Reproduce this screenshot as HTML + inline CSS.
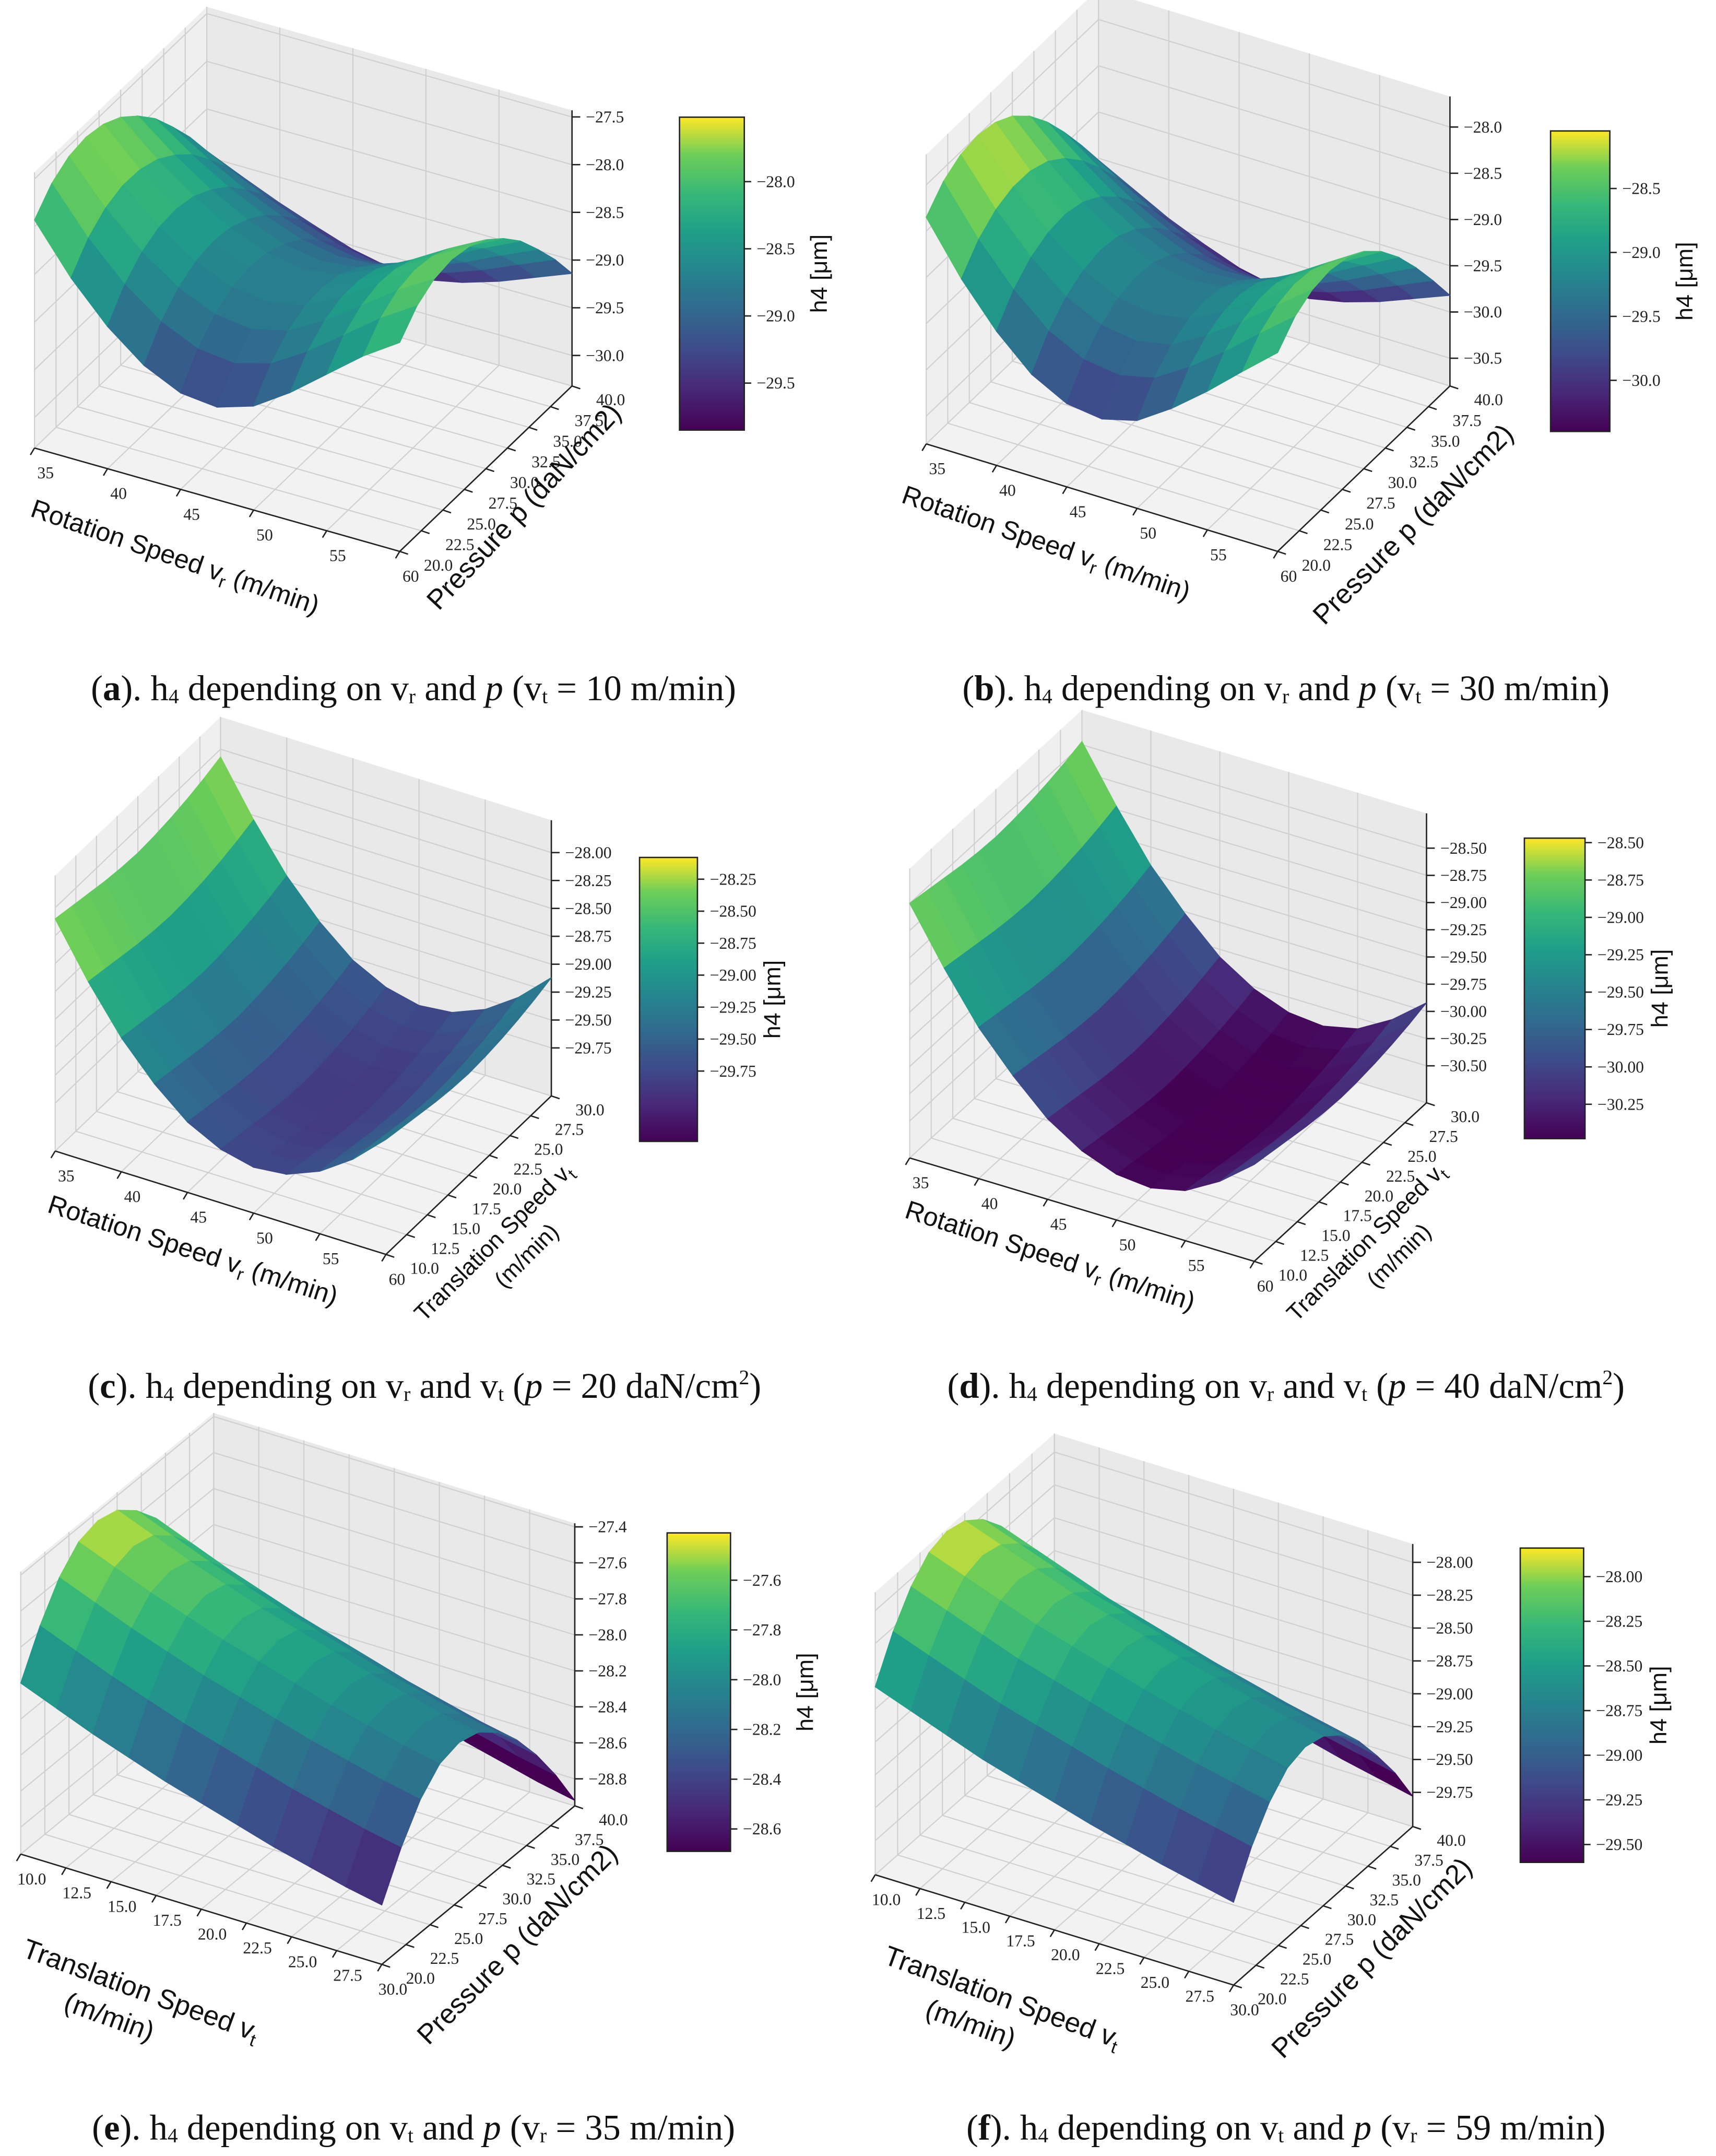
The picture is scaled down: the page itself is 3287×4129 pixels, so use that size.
<!DOCTYPE html>
<html><head><meta charset="utf-8"><style>
html,body{margin:0;padding:0;background:#fff}
svg{display:block}
</style></head><body>
<svg id="fig" xmlns="http://www.w3.org/2000/svg" width="3287" height="4129" viewBox="0 0 1245 1564" font-family="Liberation Serif, serif">
<rect width="1245" height="1564" fill="#fff"/>
</svg>
<script>
// ---- data ----
// surface z = base + yProfile[j] + blend(xFront[i] at y-min, xBack[i] at y-max)
const xTicksVr = [35,40,45,50,55,60];
const xTicksVt = [10.0,12.5,15.0,17.5,20.0,22.5,25.0,27.5,30.0];
const yTicksP = [20.0,22.5,25.0,27.5,30.0,32.5,35.0,37.5,40.0];
const yTicksVt = [10.0,12.5,15.0,17.5,20.0,22.5,25.0,27.5,30.0];

const baseA = -27.58;
const xFrontA = [0,-0.5,-0.9,-1.2,-1.38,-1.42,-1.3,-1.05,-0.75,-0.45,-0.2];
const xBackA = [0,-0.17,-0.33,-0.47,-0.6,-0.68,-0.7,-0.62,-0.5,-0.35,-0.2];
const yProfA = [-0.35,-0.14,-0.03,0,-0.04,-0.14,-0.3,-0.5,-0.76,-1.04,-1.36];
const zTicksA = [-27.5,-28.0,-28.5,-29.0,-29.5,-30.0];
const cbTicksA = [-28.0,-28.5,-29.0,-29.5];

const baseB = -28.0;
const xFrontB = [0,-0.55,-1.0,-1.35,-1.55,-1.6,-1.5,-1.25,-0.95,-0.62,-0.3];
const xBackB = [0,-0.2,-0.4,-0.56,-0.7,-0.78,-0.8,-0.72,-0.6,-0.45,-0.3];
const yProfB = [-0.35,-0.14,-0.03,0,-0.04,-0.15,-0.33,-0.57,-0.86,-1.18,-1.52];
const zTicksB = [-28.0,-28.5,-29.0,-29.5,-30.0,-30.5];
const cbTicksB = [-28.5,-29.0,-29.5,-30.0];

const baseC = -28.1;
const xProfC = [0,-0.47,-0.88,-1.2,-1.45,-1.6,-1.67,-1.64,-1.52,-1.32,-1.05];
const yProfC = [0,-0.03,-0.06,-0.09,-0.11,-0.12,-0.11,-0.09,-0.06,-0.02,0.03];
const zTicksC = [-28.00,-28.25,-28.50,-28.75,-29.00,-29.25,-29.50,-29.75];
const cbTicksC = [-28.25,-28.50,-28.75,-29.00,-29.25,-29.50,-29.75];

const baseD = -28.5;
const xProfD = [0,-0.5,-0.95,-1.3,-1.6,-1.8,-1.92,-1.95,-1.88,-1.7,-1.45];
const yProfD = [0,-0.03,-0.06,-0.09,-0.11,-0.12,-0.11,-0.09,-0.06,-0.02,0.03];
const zTicksD = [-28.50,-28.75,-29.00,-29.25,-29.50,-29.75,-30.00,-30.25,-30.50];
const cbTicksD = [-28.50,-28.75,-29.00,-29.25,-29.50,-29.75,-30.00,-30.25];

const baseE = -27.45;
const xProfE = [0,-0.08,-0.16,-0.23,-0.3,-0.36,-0.42,-0.48,-0.53,-0.58,-0.62];
const yProfE = [-0.55,-0.32,-0.14,-0.03,0,-0.03,-0.12,-0.25,-0.42,-0.62,-0.85];
const zTicksE = [-27.4,-27.6,-27.8,-28.0,-28.2,-28.4,-28.6,-28.8];
const cbTicksE = [-27.6,-27.8,-28.0,-28.2,-28.4,-28.6];

const baseF = -27.88;
const xProfF = [0,-0.1,-0.2,-0.3,-0.38,-0.46,-0.54,-0.61,-0.68,-0.74,-0.8];
const yProfF = [-0.7,-0.4,-0.18,-0.04,0,-0.04,-0.15,-0.32,-0.55,-0.8,-1.1];
const zTicksF = [-28.00,-28.25,-28.50,-28.75,-29.00,-29.25,-29.50,-29.75];
const cbTicksF = [-28.00,-28.25,-28.50,-28.75,-29.00,-29.25,-29.50];

const NS='http://www.w3.org/2000/svg';
const svg=document.getElementById('fig');
const VIR=[[0,[68,1,84]],[0.13,[72,40,120]],[0.25,[62,73,137]],[0.38,[49,104,142]],[0.5,[38,130,142]],[0.63,[31,158,137]],[0.75,[53,183,121]],[0.88,[110,206,88]],[1,[253,231,37]]];
function vir(t){t=Math.max(0,Math.min(1,t));for(let i=1;i<VIR.length;i++){if(t<=VIR[i][0]){const a=VIR[i-1],b=VIR[i];const f=(t-a[0])/(b[0]-a[0]);const c=a[1].map((v,k)=>Math.round(v+(b[1][k]-v)*f));return `rgb(${c[0]},${c[1]},${c[2]})`;}}return 'rgb(253,231,37)';}
function el(tag,attrs,parent){const e=document.createElementNS(NS,tag);for(const k in attrs)e.setAttribute(k,attrs[k]);(parent||svg).appendChild(e);return e;}
function fmt(v,d){return (v<0?'\u2212':'')+Math.abs(v).toFixed(d);}

const panels=[
 {id:'a',O:[25,325],ex:[265,75],ey:[125,-120],ez:[0,-200],xr:[35,60],yr:[20,40],zr:[-30.32,-27.43],xt:xTicksVr,yt:yTicksP,zt:zTicksA,zd:1,base:baseA,xf:xFrontA,xb:xBackA,yp:yProfA,cb:[493,85,47,227],cbr:[-29.85,-27.52],cbt:cbTicksA,cbd:1,xd:0,
  xl:['Rotation Speed v','r',' (m/min)'],xlPos:[125,410,19],yl:'Pressure p (daN/cm2)',ylPos:[385,372,-47],cap:[300,508,'a','r','p','t','10 m/min','v']},
 {id:'b',O:[672,322],ex:[255,78],ey:[125,-120],ez:[0,-210],xr:[35,60],yr:[20,40],zr:[-30.8,-27.67],xt:xTicksVr,yt:yTicksP,zt:zTicksB,zd:1,base:baseB,xf:xFrontB,xb:xBackB,yp:yProfB,cb:[1125,95,43,218],cbr:[-30.4,-28.05],cbt:cbTicksB,cbd:1,xd:0,
  xl:['Rotation Speed v','r',' (m/min)'],xlPos:[757,400,19],yl:'Pressure p (daN/cm2)',ylPos:[1030,385,-45],cap:[933,508,'b','r','p','t','30 m/min','v']},
 {id:'c',O:[40,835],ex:[240,75],ey:[120,-115],ez:[0,-200],xr:[35,60],yr:[10,30],zr:[-30.18,-27.71],xt:xTicksVr,yt:yTicksVt,zt:zTicksC,zd:2,base:baseC,xf:xProfC,xb:xProfC,yp:yProfC,cb:[464,622,42,206],cbr:[-30.3,-28.08],cbt:cbTicksC,cbd:2,xd:0,
  xl:['Rotation Speed v','r',' (m/min)'],xlPos:[138,913,18],yl2:['Translation Speed v','t','(m/min)'],ylPos:[362,905,-45],cap:[308,1014,'c','r','vt','p','20 daN/cm','p']},
 {id:'d',O:[660,840],ex:[250,75],ey:[125,-115],ez:[0,-210],xr:[35,60],yr:[10,30],zr:[-30.84,-28.18],xt:xTicksVr,yt:yTicksVt,zt:zTicksD,zd:2,base:baseD,xf:xProfD,xb:xProfD,yp:yProfD,cb:[1106,608,44,218],cbr:[-30.48,-28.47],cbt:cbTicksD,cbd:2,xd:0,
  xl:['Rotation Speed v','r',' (m/min)'],xlPos:[760,917,18],yl2:['Translation Speed v','t','(m/min)'],ylPos:[995,905,-45],cap:[933,1014,'d','r','vt','p','40 daN/cm','p']},
 {id:'e',O:[15,1345],ex:[262,80],ey:[140,-115],ez:[0,-205],xr:[10,30],yr:[20,40],zr:[-28.95,-27.38],xt:xTicksVt,yt:yTicksP,zt:zTicksE,zd:1,base:baseE,xf:xProfE,xb:xProfE,yp:yProfE,cb:[484,1112,46,231],cbr:[-28.69,-27.41],cbt:cbTicksE,cbd:1,xd:1,
  xl2:['Translation Speed v','t','(m/min)'],xlPos:[100,1450,20],yl:'Pressure p (daN/cm2)',ylPos:[380,1415,-45],cap:[300,1552,'e','t','p','r','35 m/min','v']},
 {id:'f',O:[635,1360],ex:[260,80],ey:[130,-115],ez:[0,-205],xr:[10,30],yr:[20,40],zr:[-30.01,-27.86],xt:xTicksVt,yt:yTicksP,zt:zTicksF,zd:2,base:baseF,xf:xProfF,xb:xProfF,yp:yProfF,cb:[1103,1123,46,228],cbr:[-29.60,-27.84],cbt:cbTicksF,cbd:2,xd:1,
  xl2:['Translation Speed v','t','(m/min)'],xlPos:[725,1455,20],yl:'Pressure p (daN/cm2)',ylPos:[1000,1425,-45],cap:[933,1552,'f','t','p','r','59 m/min','v']},
];

const captions=[];
panels.forEach(P=>{
 const g=el('g',{});
 
 
 const nx=v=>(v-P.xr[0])/(P.xr[1]-P.xr[0]);
 const ny=v=>(v-P.yr[0])/(P.yr[1]-P.yr[0]);
 const nz=v=>(v-P.zr[0])/(P.zr[1]-P.zr[0]);
 const pr=(a,b,c)=>[P.O[0]+a*P.ex[0]+b*P.ey[0]+c*P.ez[0],P.O[1]+a*P.ex[1]+b*P.ey[1]+c*P.ez[1]];
 const pts=arr=>arr.map(p=>p[0].toFixed(2)+','+p[1].toFixed(2)).join(' ');
 const floor=el('polygon',{points:pts([pr(0,0,0),pr(1,0,0),pr(1,1,0),pr(0,1,0)]),fill:'#f2f2f2',stroke:'none'},g);
 
 
 const wl=el('polygon',{points:pts([pr(0,0,0),pr(0,1,0),pr(0,1,1),pr(0,0,1)]),fill:'#efefef'},g);
 
 
 const wr=el('polygon',{points:pts([pr(0,1,0),pr(1,1,0),pr(1,1,1),pr(0,1,1)]),fill:'#e9e9e9'},g);
 
 
 const gl=(a,b)=>el('line',{x1:a[0],y1:a[1],x2:b[0],y2:b[1],stroke:'#cfcfcf','stroke-width':0.8},g);
 P.xt.forEach(v=>{const t=nx(v);gl(pr(t,0,0),pr(t,1,0));gl(pr(t,1,0),pr(t,1,1));});
 P.yt.forEach(v=>{const t=ny(v);gl(pr(0,t,0),pr(1,t,0));gl(pr(0,t,0),pr(0,t,1));});
 P.zt.forEach(v=>{const t=nz(v);if(t<0||t>1)return;gl(pr(0,0,t),pr(0,1,t));gl(pr(0,1,t),pr(1,1,t));});
 const ax=(a,b)=>el('line',{x1:a[0],y1:a[1],x2:b[0],y2:b[1],stroke:'#222','stroke-width':1},g);
 ax(pr(0,0,0),pr(1,0,0));ax(pr(1,0,0),pr(1,1,0));ax(pr(1,1,0),pr(1,1,1));
 const n=P.xf.length,m=P.yp.length;
 const Z=(i,j)=>{const t=j/(m-1);return P.base+P.yp[j]+(1-t)*P.xf[i]+t*P.xb[i];};
 const quads=[];
 for(let i=0;i<n-1;i++)for(let j=0;j<m-1;j++){
  const xs=[i/(n-1),(i+1)/(n-1)],ys=[j/(m-1),(j+1)/(m-1)];
  const zz=[Z(i,j),Z(i+1,j),Z(i+1,j+1),Z(i,j+1)];
  const zm=(zz[0]+zz[1]+zz[2]+zz[3])/4;
  const c=[pr(xs[0],ys[0],nz(zz[0])),pr(xs[1],ys[0],nz(zz[1])),pr(xs[1],ys[1],nz(zz[2])),pr(xs[0],ys[1],nz(zz[3]))];
  quads.push({c,zm,d:(xs[0]+xs[1])/2-(ys[0]+ys[1])/2+0.3*nz(zm)});
 }
 quads.sort((a,b)=>a.d-b.d);
 const sg=el('g',{},g);
 
 
 quads.forEach(q=>{
  const col=vir((q.zm-P.cbr[0])/(P.cbr[1]-P.cbr[0]));
  const p=el('polygon',{points:pts(q.c),fill:col,stroke:col,'stroke-width':0.6},sg);
  
  
 });
 P.xt.forEach(v=>{const t=nx(v);const a=pr(t,0,0);
  el('line',{x1:a[0],y1:a[1],x2:a[0]-3,y2:a[1]+5,stroke:'#222','stroke-width':1},g);
  const tx=el('text',{x:a[0]+8,y:a[1]+22,'font-size':12,'text-anchor':'middle',fill:'#222'},g);
  tx.textContent=v.toFixed(P.xd);
  
  });
 P.yt.forEach(v=>{const t=ny(v);const a=pr(1,t,0);
  el('line',{x1:a[0],y1:a[1],x2:a[0]+6,y2:a[1]+2,stroke:'#222','stroke-width':1},g);
  const tx=el('text',{x:a[0]+28,y:a[1]+14,'font-size':12,'text-anchor':'middle',fill:'#222'},g);
  tx.textContent=v.toFixed(1);
  
  });
 P.zt.forEach(v=>{const t=nz(v);const a=pr(1,1,t);
  el('line',{x1:a[0],y1:a[1],x2:a[0]+6,y2:a[1],stroke:'#222','stroke-width':1},g);
  const tx=el('text',{x:a[0]+10,y:a[1]+4,'font-size':12,fill:'#222'},g);
  tx.textContent=fmt(v,P.zd);
  
  });
 const sans='Liberation Sans, DejaVu Sans, sans-serif';
 if(P.xl){const t=el('text',{x:P.xlPos[0],y:P.xlPos[1],'font-size':19,'font-family':sans,'text-anchor':'middle',fill:'#111',transform:`rotate(${P.xlPos[2]} ${P.xlPos[0]} ${P.xlPos[1]})`},g);
  t.innerHTML=`${P.xl[0]}<tspan font-size="13" dy="4">${P.xl[1]}</tspan><tspan dy="-4">${P.xl[2]}</tspan>`;
  }
 if(P.xl2){const t=el('text',{x:P.xlPos[0],y:P.xlPos[1],'font-size':20,'font-family':sans,'text-anchor':'middle',fill:'#111',transform:`rotate(${P.xlPos[2]} ${P.xlPos[0]} ${P.xlPos[1]})`},g);
  t.innerHTML=`${P.xl2[0]}<tspan font-size="13" dy="4">${P.xl2[1]}</tspan><tspan x="${P.xlPos[0]-15}" dy="22">${P.xl2[2]}</tspan>`;
  }
 if(P.yl){const t=el('text',{x:P.ylPos[0],y:P.ylPos[1],'font-size':20,'font-family':sans,'text-anchor':'middle',fill:'#111',transform:`rotate(${P.ylPos[2]} ${P.ylPos[0]} ${P.ylPos[1]})`},g);
  t.textContent=P.yl;}
 if(P.yl2){const t=el('text',{x:P.ylPos[0],y:P.ylPos[1],'font-size':17,'font-family':sans,'text-anchor':'middle',fill:'#111',transform:`rotate(${P.ylPos[2]} ${P.ylPos[0]} ${P.ylPos[1]})`},g);
  t.innerHTML=`${P.yl2[0]}<tspan font-size="12" dy="4">${P.yl2[1]}</tspan><tspan x="${P.ylPos[0]+10}" dy="20">${P.yl2[2]}</tspan>`;
  }
 const [bx,by,bw,bh]=P.cb;
 const gid='cg'+P.id;
 const lg=el('linearGradient',{id:gid,x1:0,y1:1,x2:0,y2:0},g);
 VIR.forEach(s=>el('stop',{offset:s[0],'stop-color':`rgb(${s[1].join(',')})`},lg));
 const cbr=el('rect',{x:bx,y:by,width:bw,height:bh,fill:`url(#${gid})`,stroke:'#222','stroke-width':1},g);
 
 
 P.cbt.forEach(v=>{const yy=by+bh*(P.cbr[1]-v)/(P.cbr[1]-P.cbr[0]);
  el('line',{x1:bx+bw,y1:yy,x2:bx+bw+5,y2:yy,stroke:'#222','stroke-width':1},g);
  const tx=el('text',{x:bx+bw+9,y:yy+4,'font-size':12,fill:'#222'},g);
  tx.textContent=fmt(v,P.cbd);
  
  });
 const lx=bx+bw+60,ly=by+bh/2;
 const cl=el('text',{x:lx,y:ly,'font-size':17,'font-family':sans,'text-anchor':'middle',fill:'#111',transform:`rotate(-90 ${lx} ${ly})`},g);
 cl.textContent='h4 [\u03bcm]';
 
 
 const c=P.cap;
 const ct=el('text',{x:c[0],y:c[1],'font-size':26,'text-anchor':'middle',fill:'#111'},g);
 let second = c[4]==='vt' ? `v<tspan font-size="15" dy="2">t</tspan><tspan dy="-2">`:`<tspan font-style="italic">p</tspan><tspan>`;
 let paren = c[7]==='p' ? `<tspan font-style="italic">p</tspan> = ${c[6]}<tspan font-size="15" dy="-10">2</tspan><tspan dy="10">)</tspan>` : `v<tspan font-size="15" dy="2">${c[5]}</tspan><tspan dy="-2"> = ${c[6]})</tspan>`;
 ct.innerHTML=`(<tspan font-weight="bold">${c[2]}</tspan>). h<tspan font-size="15" dy="2">4</tspan><tspan dy="-2"> depending on v</tspan><tspan font-size="15" dy="2">${c[3]}</tspan><tspan dy="-2"> and </tspan>${second} (</tspan>${paren}`;
 
 
 captions.push(ct);
});
captions.forEach(ct=>svg.appendChild(ct));
</script>
</body></html>
